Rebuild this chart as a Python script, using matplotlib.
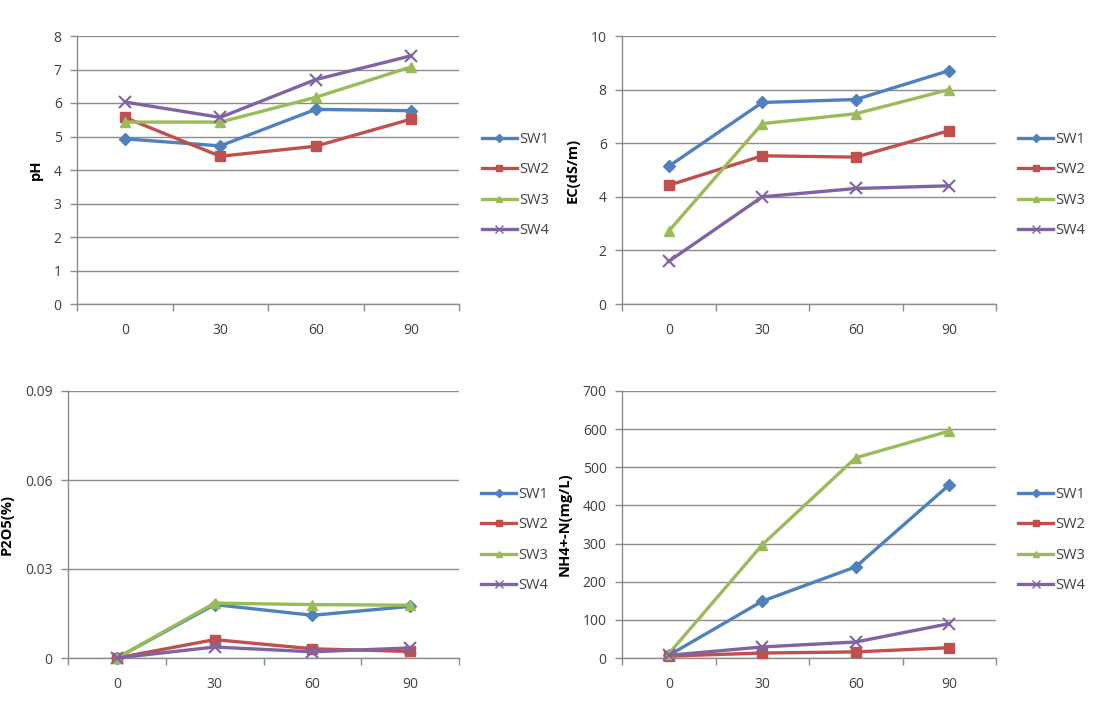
import matplotlib
matplotlib.use("Agg")
import matplotlib.pyplot as plt
from matplotlib.lines import Line2D

days = ["0", "30", "60", "90"]
series = ["SW1", "SW2", "SW3", "SW4"]

ph_sw1 = [4.93, 4.72, 5.81, 5.77]
ph_sw2 = [5.57, 4.41, 4.71, 5.52]
ph_sw3 = [5.43, 5.43, 6.17, 7.08]
ph_sw4 = [6.03, 5.57, 6.70, 7.41]

ec_sw1 = [5.14, 7.52, 7.63, 8.71]
ec_sw2 = [4.43, 5.53, 5.48, 6.47]
ec_sw3 = [2.72, 6.73, 7.10, 8.00]
ec_sw4 = [1.59, 4.00, 4.31, 4.41]

p_sw1 = [0.0, 0.0180, 0.0144, 0.0174]
p_sw2 = [0.0, 0.0062, 0.0031, 0.0022]
p_sw3 = [0.0, 0.0185, 0.0180, 0.0178]
p_sw4 = [0.0, 0.0037, 0.0021, 0.0034]

nh_sw1 = [7, 149, 239, 454]
nh_sw2 = [5, 13, 16, 27]
nh_sw3 = [11, 297, 525, 595]
nh_sw4 = [7, 29, 42, 90]

colors = ["#4F81BD", "#C0504D", "#9BBB59", "#8064A2"]
markers = ["D", "s", "^", "x"]
msizes = [6, 7.5, 7.5, 8]

plt.rcParams["font.family"] = ["Open Sans", "DejaVu Sans"]

fig = plt.figure(figsize=(11.14, 7.18), dpi=100)
W, H = 1114, 718

def make_axes(l, t, r, b):
    return fig.add_axes([l / W, 1 - b / H, (r - l) / W, (b - t) / H])

panels = [
    dict(box=(77, 36, 459, 304), data=[ph_sw1, ph_sw2, ph_sw3, ph_sw4],
         ylim=(0, 8), yticks=[0, 1, 2, 3, 4, 5, 6, 7, 8], yfmt="{:g}", ylabel="pH",
         legx=482, legy=185),
    dict(box=(622, 36, 996, 304), data=[ec_sw1, ec_sw2, ec_sw3, ec_sw4],
         ylim=(0, 10), yticks=[0, 2, 4, 6, 8, 10], yfmt="{:g}", ylabel="EC(dS/m)",
         legx=1018, legy=185),
    dict(box=(68, 391, 459, 658), data=[p_sw1, p_sw2, p_sw3, p_sw4],
         ylim=(0, 0.09), yticks=[0, 0.03, 0.06, 0.09], yfmt="{:g}", ylabel="P2O5(%)",
         legx=481, legy=540),
    dict(box=(622, 391, 996, 658), data=[nh_sw1, nh_sw2, nh_sw3, nh_sw4],
         ylim=(0, 700), yticks=[0, 100, 200, 300, 400, 500, 600, 700], yfmt="{:g}",
         ylabel="NH4+-N(mg/L)", legx=1018, legy=540),
]

grid_c = "#8C8C8C"
text_c = "#404040"

for p in panels:
    ax = make_axes(*p["box"])
    x = list(range(len(days)))
    for vals, c, m, ms, name in zip(p["data"], colors, markers, msizes, series):
        mew = 1.5 if m == "x" else 1
        ax.plot(x, vals, color=c, lw=2.4, marker=m, ms=ms, mew=mew,
                mfc=c, mec=c, label=name, zorder=3, clip_on=False)
    ax.set_xlim(-0.5, len(days) - 0.5)
    ax.set_ylim(*p["ylim"])
    ax.set_yticks(p["yticks"])
    ax.set_yticklabels([p["yfmt"].format(v) for v in p["yticks"]])
    ax.set_xticks(x)
    ax.set_xticklabels(days)
    ax.set_xticks([i - 0.5 for i in range(len(days) + 1)], minor=True)
    ax.tick_params(axis="x", which="major", length=0, pad=14, labelsize=10, colors=text_c)
    ax.tick_params(axis="x", which="minor", length=5, width=1, color=grid_c, direction="out")
    ax.tick_params(axis="y", which="major", length=5, width=1, color=grid_c, pad=6,
                   labelsize=10, labelcolor=text_c)
    ax.yaxis.grid(True, color=grid_c, lw=1)
    ax.set_axisbelow(True)
    for s in ["top", "right"]:
        ax.spines[s].set_visible(False)
    for s in ["left", "bottom"]:
        ax.spines[s].set_color(grid_c)
        ax.spines[s].set_linewidth(1)
    ax.set_ylabel(p["ylabel"], fontsize=10.5, fontweight="bold", color="black", labelpad=8)

    handles = [Line2D([], [], color=c, lw=2.4, marker=m, ms=ms * 0.65, mfc=c, mec=c)
               for c, m, ms in zip(colors, markers, msizes)]
    fig.legend(handles, series, loc="center left",
               bbox_to_anchor=(p["legx"] / W, 1 - p["legy"] / H),
               frameon=False, fontsize=10.5, labelspacing=1.05, handlelength=2.4,
               handletextpad=0.15, borderpad=0, borderaxespad=0, labelcolor=text_c)

fig.savefig("out.png", dpi=100, facecolor="white")
